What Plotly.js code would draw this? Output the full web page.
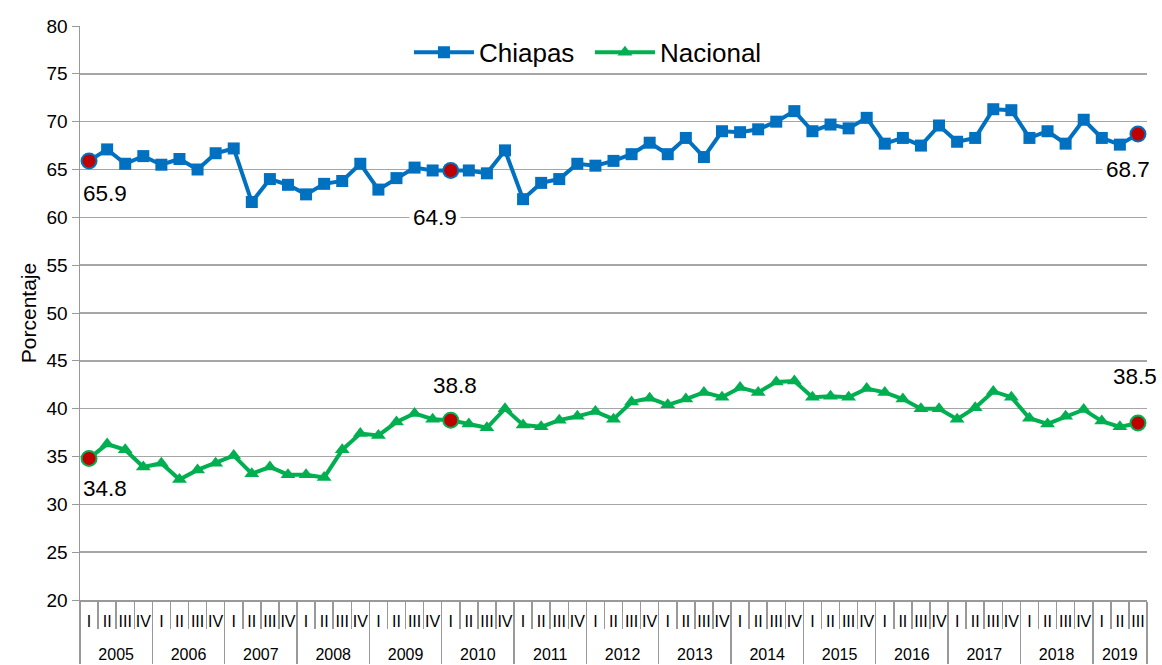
<!DOCTYPE html>
<html>
<head>
<meta charset="utf-8">
<script src="https://cdn.plot.ly/plotly-3.0.1.min.js"></script>
<style>html,body{margin:0;padding:0;background:#fff;}#chart{width:1162px;height:665px;}</style>
</head>
<body>
<div id="chart"></div>
<script>
const years = ['2005','2006','2007','2008','2009','2010','2011','2012','2013','2014','2015','2016','2017','2018','2019'];
const quarters = ['I','II','III','IV'];
const lastYearQuarters = 3;

const chiapas = [65.9,67.1,65.6,66.4,65.5,66.1,65.0,66.7,67.2,61.6,
                 64.0,63.4,62.4,63.5,63.8,65.6,62.9,64.1,65.2,64.9,
                 64.9,64.9,64.6,67.0,61.9,63.6,64.0,65.6,65.4,65.9,
                 66.6,67.8,66.6,68.3,66.3,69.0,68.9,69.2,70.0,71.1,
                 69.0,69.7,69.3,70.4,67.7,68.3,67.5,69.6,67.9,68.3,
                 71.3,71.2,68.3,69.0,67.7,70.2,68.3,67.6,68.7];
const nacional = [34.8,36.3,35.7,33.9,34.3,32.6,33.6,34.3,35.1,33.2,
                  33.9,33.1,33.1,32.8,35.7,37.4,37.2,38.6,39.5,38.9,
                  38.8,38.4,38.0,40.0,38.3,38.1,38.8,39.2,39.7,38.9,
                  40.7,41.1,40.4,41.0,41.7,41.2,42.2,41.7,42.8,42.9,
                  41.2,41.3,41.2,42.1,41.7,41.0,40.0,40.0,38.9,40.1,
                  41.8,41.2,39.0,38.4,39.2,39.9,38.7,38.1,38.5];
const highlightIdx = [0, 20, 58];
const seriesNames = ['Chiapas','Nacional'];

// multicategory x (quarter label gets an empty second line so the year row sits lower)
const xYear = [], xQ = [];
years.forEach((y, i) => {
  const n = (i === years.length - 1) ? lastYearQuarters : quarters.length;
  for (let k = 0; k < n; k++) { xYear.push(y); xQ.push(quarters[k] + '<br> '); }
});
const pick = (arr, idx) => idx.map(i => arr[i]);

const BLUE = '#0070C0', GREEN = '#00B050', RED = '#C00000';
const FONT = 'Liberation Sans, Arial, sans-serif';

const traces = [
  {x:[xYear,xQ], y:chiapas, name:seriesNames[0], type:'scatter', mode:'lines+markers',
   line:{color:BLUE, width:4}, marker:{symbol:'square', size:12, color:BLUE}},
  {x:[xYear,xQ], y:nacional, name:seriesNames[1], type:'scatter', mode:'lines+markers',
   line:{color:GREEN, width:4}, marker:{symbol:'triangle-up', size:13, color:GREEN}},
  {x:[pick(xYear,highlightIdx), pick(xQ,highlightIdx)], y:pick(chiapas,highlightIdx), type:'scatter', mode:'markers',
   showlegend:false, marker:{symbol:'circle', size:15, color:RED, line:{color:BLUE, width:2}}},
  {x:[pick(xYear,highlightIdx), pick(xQ,highlightIdx)], y:pick(nacional,highlightIdx), type:'scatter', mode:'markers',
   showlegend:false, marker:{symbol:'circle', size:15, color:RED, line:{color:GREEN, width:2}}}
];

const annFont = {family:FONT, size:22.5, color:'#000'};
function ann(idx, val, xshift, yshift, yv, bg) {
  return {x: idx, y: (yv === undefined ? val : yv), xref:'x', yref:'y', text: val.toFixed(1), showarrow:false,
          xshift:xshift, yshift:yshift, font:annFont, bgcolor: bg ? '#fff' : 'rgba(0,0,0,0)', borderpad:3};
}
const annotations = [
  ann(highlightIdx[0], chiapas[0], 16, -33),
  ann(highlightIdx[1], chiapas[20], -16, 0, 60, true),
  ann(highlightIdx[2], chiapas[58], -10, 0, 65, true),
  ann(highlightIdx[0], nacional[0], 16, -30),
  ann(highlightIdx[1], nacional[20], 4, 35),
  ann(highlightIdx[2], nacional[58], -3, 47)
];

const layout = {
  width:1162, height:665,
  margin:{l:80, r:15, t:26, b:65},
  paper_bgcolor:'#fff', plot_bgcolor:'#fff',
  font:{family:FONT, size:18, color:'#000'},
  showlegend:true,
  legend:{orientation:'h', x:0.3083, xanchor:'left', y:0.995, yanchor:'top',
          font:{family:FONT, size:26, color:'#000'}, bgcolor:'rgba(255,255,255,0)', itemwidth:60,
          entrywidth:106, entrywidthmode:'pixels', tracegroupgap:0},
  xaxis:{type:'multicategory', range:[-0.5, 58.5], autorange:false, showgrid:false,
         tickmode:'linear', tick0:0, dtick:1,
         showline:true, linecolor:'#999', linewidth:1.5,
         ticks:'outside', ticklen:27, tickcolor:'#999', tickwidth:1.5, tickangle:0,
         ticklabelstandoff:6,
         showdividers:true, dividercolor:'#999', dividerwidth:1.5,
         tickfont:{family:FONT, size:16, color:'#000'}, zeroline:false},
  yaxis:{range:[20,80], dtick:5, tick0:20, showgrid:true, gridcolor:'#a6a6a6', gridwidth:1.5,
         showline:true, linecolor:'#999', linewidth:1.5, ticks:'outside', ticklen:7, tickcolor:'#999',
         tickfont:{family:FONT, size:19, color:'#000'}, zeroline:false,
         title:{text:'Porcentaje', font:{family:FONT, size:21, color:'#000'}, standoff:4}},
  annotations: annotations
};

Plotly.newPlot('chart', traces, layout, {displayModeBar:false, staticPlot:true});
</script>
</body>
</html>
